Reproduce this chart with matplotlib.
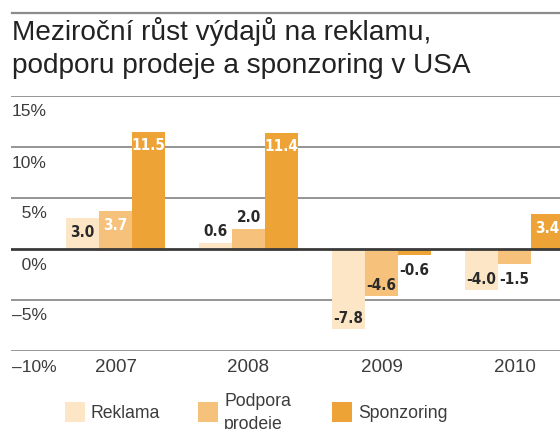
# -*- coding: utf-8 -*-
# Mezirocni rust vydaju na reklamu - bar chart

import matplotlib
matplotlib.use('Agg')
import matplotlib.pyplot as plt
from matplotlib.patches import Rectangle
from matplotlib.lines import Line2D

# data (percent, year over year)
years = ['2007', '2008', '2009', '2010']
series = ['Reklama', 'Podpora\nprodeje', 'Sponzoring']
reklama = [3.0, 0.6, -7.8, -4.0]
podpora = [3.7, 2.0, -4.6, -1.5]
sponzoring = [11.5, 11.4, -0.6, 3.4]
y_ticks = [15, 10, 5, 0, -5, -10]
y_labels = ['15%', '10%', '\u20075%', '\u20070%', '\u20135%', '\u201310%']

colors = ['#fde6c6', '#f6c27b', '#eea337']
W, H = 560, 429

plt.rcParams['font.family'] = ['Liberation Sans', 'DejaVu Sans']

fig = plt.figure(figsize=(W / 100, H / 100), dpi=100)
ax = fig.add_axes([11 / W, (H - 351) / H, (W - 11) / W, 255 / H])

values = [reklama, podpora, sponzoring]
bw = 0.25
for s, vals in enumerate(values):
    xs = [i + (s - 1) * bw for i in range(len(years))]
    ax.bar(xs, vals, width=bw, color=colors[s], zorder=2, linewidth=0)
    for x, v in zip(xs, vals):
        if abs(v) >= 3:
            dy = -14 if v > 0 else 10
            tc = 'white' if (v > 0 and s > 0) else '#2a2a2a'
        else:
            dy = 11 if v > 0 else -15
            tc = '#2a2a2a'
        ax.annotate(f'{v:.1f}', (x, v), xytext=(0, dy), textcoords='offset pixels',
                    ha='center', va='center', fontsize=11, fontweight='bold',
                    fontstretch='condensed', color=tc, family='DejaVu Sans',
                    zorder=4, annotation_clip=False)

for t in y_ticks:
    if t == 0:
        ax.axhline(t, color='#3a3a3a', lw=2, zorder=3)
    else:
        ax.axhline(t, color='#8c8c8c', lw=1.3, zorder=0)

ax.set_xlim((11 - 115.5) / 133, (W - 115.5) / 133)
ax.set_ylim(-10, 15)
ax.axis('off')

# y labels below each grid line
for t, lab in zip(y_ticks, y_labels):
    ax.annotate(lab, (0, t), xycoords=('axes fraction', 'data'), xytext=(1, -16),
                textcoords='offset pixels', ha='left', va='center',
                fontsize=12.5, color='#3c3c3c', annotation_clip=False)

# years
for i, yr in enumerate(years):
    ax.annotate(yr, (i, -10), xytext=(0, -16), textcoords='offset pixels',
                ha='center', va='center', fontsize=13.5, color='#3c3c3c',
                annotation_clip=False)

# title and top rule
fig.add_artist(Line2D([12 / W, 1], [1 - 13 / H, 1 - 13 / H], color='#8c8c8c', lw=1.6))
fig.text(12 / W, 1 - 40 / H, 'Meziroční růst výdajů na reklamu,', fontsize=20.2,
         color='#222222', va='baseline', ha='left')
fig.text(12 / W, 1 - 73 / H, 'podporu prodeje a sponzoring v USA', fontsize=20.2,
         color='#222222', va='baseline', ha='left')

# legend
sw_x = [65, 198, 332]
for s, name in enumerate(series):
    fig.add_artist(Rectangle((sw_x[s] / W, 1 - 422 / H), 20 / W, 20 / H,
                             facecolor=colors[s], edgecolor='none'))
    fig.text((sw_x[s] + 26) / W, 1 - 413 / H, name, fontsize=12.7, color='#3c3c3c',
             va='center', ha='left', linespacing=1.4)

fig.savefig('out.png', dpi=100)
